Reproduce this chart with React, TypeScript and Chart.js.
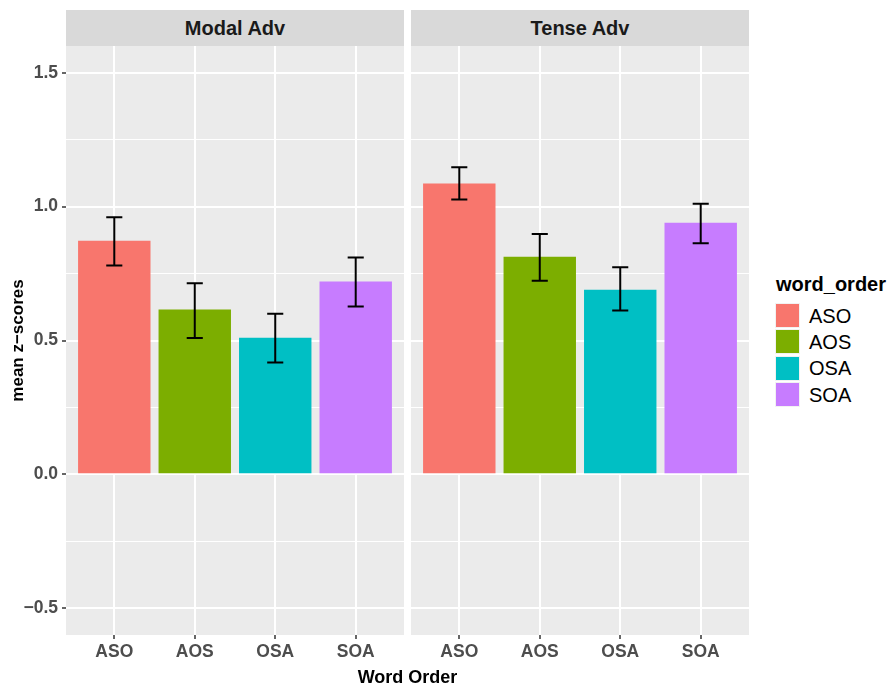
import { useEffect, useRef } from "react";
import { Chart, registerables } from "chart.js";

Chart.register(...registerables);

const FONT = "'Liberation Sans', Arial, Helvetica, sans-serif";

// data
const wordOrders = ["ASO", "AOS", "OSA", "SOA"];
const barColors = ["#F8766D", "#7CAE00", "#00BFC4", "#C77CFF"];
const facetNames = ["Modal Adv", "Tense Adv"];

const modalMeans = [0.873, 0.616, 0.51, 0.72];
const modalLower = [0.78, 0.509, 0.418, 0.627];
const modalUpper = [0.96, 0.714, 0.6, 0.81];

const tenseMeans = [1.086, 0.813, 0.69, 0.94];
const tenseLower = [1.027, 0.723, 0.612, 0.863];
const tenseUpper = [1.147, 0.898, 0.774, 1.011];

const yMajorTicks = [-0.5, 0, 0.5, 1, 1.5];
const yMinorTicks = [-0.25, 0.25, 0.75, 1.25];
const yMin = -0.6;
const yMax = 1.6;

const PANEL_W = 338;
const PANEL_H = 589;
const Y_AXIS_W = 66;
const X_AXIS_H = 50;

function zeroPadding(scale: any) {
  scale.paddingTop = 0;
  scale.paddingBottom = 0;
  scale.paddingLeft = 0;
  scale.paddingRight = 0;
}

function fmt(v: number) {
  return v.toFixed(1).replace("-", "\u2212");
}

interface PanelProps {
  means: number[];
  lower: number[];
  upper: number[];
  showYAxis: boolean;
}

function Panel({ means, lower, upper, showYAxis }: PanelProps) {
  const canvasRef = useRef<HTMLCanvasElement | null>(null);

  useEffect(() => {
    if (!canvasRef.current) return undefined;

    const panelBg = {
      id: "panelBg",
      beforeDraw(chart: Chart) {
        const { ctx, chartArea } = chart;
        ctx.save();
        ctx.fillStyle = "#EBEBEB";
        ctx.fillRect(chartArea.left, chartArea.top, chartArea.width, chartArea.height);
        ctx.restore();
      }
    };

    const errorBars = {
      id: "errorBars",
      afterDatasetsDraw(chart: Chart) {
        const { ctx } = chart;
        const x = chart.scales.x;
        const y = chart.scales.y;
        const half = x.getPixelForValue(1.1) - x.getPixelForValue(1);
        ctx.save();
        ctx.strokeStyle = "#000";
        ctx.lineWidth = 2;
        lower.forEach((lo, i) => {
          const px = x.getPixelForValue(i + 1);
          const y0 = y.getPixelForValue(lo);
          const y1 = y.getPixelForValue(upper[i]);
          ctx.beginPath();
          ctx.moveTo(px, y0);
          ctx.lineTo(px, y1);
          ctx.moveTo(px - half, y0);
          ctx.lineTo(px + half, y0);
          ctx.moveTo(px - half, y1);
          ctx.lineTo(px + half, y1);
          ctx.stroke();
        });
        ctx.restore();
      }
    };

    const isMajor = (v: number) => yMajorTicks.includes(v);

    const chart = new Chart(canvasRef.current, {
      type: "bar",
      data: {
        datasets: [
          {
            data: means.map((v, i) => ({ x: i + 1, y: v })),
            backgroundColor: barColors,
            borderWidth: 0,
            barPercentage: 0.9,
            categoryPercentage: 1
          }
        ]
      },
      options: {
        responsive: false,
        animation: false,
        layout: { padding: 0 },
        plugins: {
          legend: { display: false },
          tooltip: { enabled: false }
        },
        scales: {
          x: {
            type: "linear",
            min: 0.4,
            max: 4.6,
            offset: false,
            afterBuildTicks: (scale: any) => {
              scale.ticks = wordOrders.map((_, i) => ({ value: i + 1 }));
            },
            afterFit: (scale: any) => {
              scale.height = X_AXIS_H;
              zeroPadding(scale);
            },
            border: { display: false },
            grid: {
              offset: false,
              color: "#FFFFFF",
              lineWidth: 2,
              tickLength: 4,
              tickColor: "#333333",
              tickWidth: 1.5
            },
            ticks: {
              autoSkip: false,
              maxRotation: 0,
              padding: 3,
              color: "#4D4D4D",
              font: { family: FONT, size: 17.5, weight: "bold" },
              callback: (value: any) => wordOrders[Number(value) - 1] ?? ""
            }
          },
          y: {
            type: "linear",
            min: yMin,
            max: yMax,
            afterBuildTicks: (scale: any) => {
              scale.ticks = [...yMajorTicks, ...yMinorTicks]
                .sort((a, b) => a - b)
                .map((value) => ({ value }));
            },
            afterFit: (scale: any) => {
              scale.width = showYAxis ? Y_AXIS_W : 0;
              zeroPadding(scale);
            },
            border: { display: false },
            grid: {
              color: "#FFFFFF",
              lineWidth: (ctx: any) => (isMajor(ctx.tick?.value) ? 2 : 1),
              drawTicks: showYAxis,
              tickLength: 4,
              tickColor: (ctx: any) => (isMajor(ctx.tick?.value) ? "#333333" : "rgba(0,0,0,0)"),
              tickWidth: 1.5
            },
            ticks: {
              display: showYAxis,
              autoSkip: false,
              padding: 4,
              color: "#4D4D4D",
              font: { family: FONT, size: 17.5, weight: "bold" },
              callback: (value: any) => (isMajor(Number(value)) ? fmt(Number(value)) : "")
            },
            title: {
              display: showYAxis,
              text: "mean z\u2212scores",
              color: "#000000",
              font: { family: FONT, size: 17, weight: "bold" },
              padding: { top: 8, bottom: 0 }
            }
          }
        }
      },
      plugins: [panelBg, errorBars]
    } as any);

    return () => chart.destroy();
  }, [means, lower, upper, showYAxis]);

  const width = showYAxis ? Y_AXIS_W + PANEL_W : PANEL_W;
  return <canvas ref={canvasRef} width={width} height={PANEL_H + X_AXIS_H} />;
}

function Strip({ label, left }: { label: string; left: number }) {
  return (
    <div
      style={{
        position: "absolute",
        left,
        top: 10,
        width: PANEL_W,
        height: 36,
        background: "#D9D9D9",
        display: "flex",
        alignItems: "center",
        justifyContent: "center",
        fontSize: 20,
        lineHeight: "20px",
        fontWeight: "bold",
        color: "#1A1A1A"
      }}
    >
      {label}
    </div>
  );
}

export default function App() {
  const keyTop = 303;
  const keyStep = 26.25;
  return (
    <div
      style={{
        position: "fixed",
        left: 0,
        top: 0,
        width: 893,
        height: 685,
        background: "#FFFFFF",
        fontFamily: FONT,
        overflow: "hidden"
      }}
    >
      <Strip label={facetNames[0]} left={66} />
      <Strip label={facetNames[1]} left={411} />

      <div style={{ position: "absolute", left: 0, top: 46 }}>
        <Panel means={modalMeans} lower={modalLower} upper={modalUpper} showYAxis />
      </div>
      <div style={{ position: "absolute", left: 411, top: 46 }}>
        <Panel means={tenseMeans} lower={tenseLower} upper={tenseUpper} showYAxis={false} />
      </div>

      <div
        style={{
          position: "absolute",
          left: 66,
          width: 683,
          top: 668,
          textAlign: "center",
          fontSize: 18,
          lineHeight: "18px",
          fontWeight: "bold",
          color: "#000"
        }}
      >
        Word Order
      </div>

      <div
        style={{
          position: "absolute",
          left: 776,
          top: 274,
          fontSize: 20,
          lineHeight: "20px",
          fontWeight: "bold",
          color: "#000"
        }}
      >
        word_order
      </div>
      {wordOrders.map((name, i) => {
        const top = keyTop + i * keyStep;
        return (
          <div key={name}>
            <div
              style={{
                position: "absolute",
                left: 775,
                top,
                width: 25,
                height: 25,
                background: "#F2F2F2"
              }}
            >
              <div
                style={{
                  position: "absolute",
                  left: 1,
                  top: 1,
                  width: 23,
                  height: 23,
                  background: barColors[i]
                }}
              />
            </div>
            <div
              style={{
                position: "absolute",
                left: 809,
                top: top + 12.5 - 9.7,
                fontSize: 20,
                lineHeight: "20px",
                color: "#000"
              }}
            >
              {name}
            </div>
          </div>
        );
      })}
    </div>
  );
}
